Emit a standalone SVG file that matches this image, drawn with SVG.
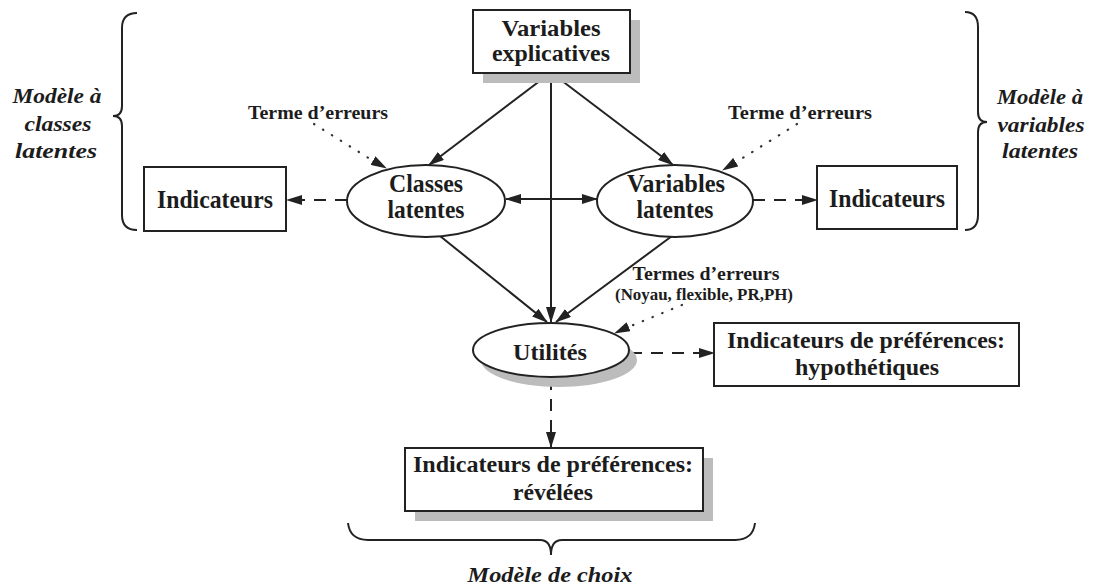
<svg xmlns="http://www.w3.org/2000/svg" width="1103" height="587" viewBox="0 0 1103 587">
<defs>
<marker id="ah" viewBox="0 0 16 10" refX="15" refY="5" markerWidth="16" markerHeight="10" markerUnits="userSpaceOnUse" orient="auto-start-reverse">
<path d="M0,0 L16,5 L0,10 Z" fill="#222"/>
</marker>
<style>
.t{font-family:"Liberation Serif","Times New Roman",serif;font-weight:bold;fill:#1c1c1c;}
.it{font-style:italic;}
.box{fill:#fff;stroke:#222;stroke-width:2;}
.sh{fill:#bcbcbc;}
.ln{stroke:#222;stroke-width:2;fill:none;}
.dash{stroke:#222;stroke-width:2;fill:none;stroke-dasharray:12 9;}
.dot{stroke:#333;stroke-width:2.2;fill:none;stroke-dasharray:0.5 10;stroke-linecap:round;}
.br{stroke:#222;stroke-width:2;fill:none;}
</style>
</defs>
<rect width="1103" height="587" fill="#fff"/>

<g id="braces">
<path class="br" d="M137,13 Q122,13 122,28 L122,106 Q122,116 113,116 Q122,116 122,126 L122,215 Q122,230 137,230"/>
<path class="br" d="M965,12 Q978,12 978,27 L978,112 Q978,122 987,122 Q978,122 978,132 L978,215 Q978,230 965,230"/>
<path class="br" d="M348,523 Q350,540 368,540 L540,540 Q551,540 551,555 Q551,540 562,540 L735,540 Q753,540 755,523"/>
<text class="t it" x="57" y="103" font-size="22" text-anchor="middle" textLength="89" lengthAdjust="spacingAndGlyphs">Modèle à</text>
<text class="t it" x="58" y="131" font-size="22" text-anchor="middle" textLength="67" lengthAdjust="spacingAndGlyphs">classes</text>
<text class="t it" x="56" y="158" font-size="22" text-anchor="middle" textLength="82" lengthAdjust="spacingAndGlyphs">latentes</text>
<text class="t it" x="1040" y="104" font-size="22" text-anchor="middle" textLength="86" lengthAdjust="spacingAndGlyphs">Modèle à</text>
<text class="t it" x="1041" y="132" font-size="22" text-anchor="middle" textLength="87" lengthAdjust="spacingAndGlyphs">variables</text>
<text class="t it" x="1040" y="158" font-size="22" text-anchor="middle" textLength="76" lengthAdjust="spacingAndGlyphs">latentes</text>
<text class="t it" x="550" y="582" font-size="22" text-anchor="middle" textLength="165" lengthAdjust="spacingAndGlyphs">Modèle de choix</text>
</g>

<g id="connectors">
<line class="ln" x1="551" y1="74" x2="551" y2="322" marker-end="url(#ah)"/>
<line class="ln" x1="549" y1="74" x2="429" y2="165" marker-end="url(#ah)"/>
<line class="ln" x1="553" y1="74" x2="673" y2="165" marker-end="url(#ah)"/>
<line class="ln" x1="506" y1="199" x2="597" y2="199" marker-start="url(#ah)" marker-end="url(#ah)"/>
<line class="ln" x1="440" y1="236" x2="547" y2="322" marker-end="url(#ah)"/>
<line class="ln" x1="672" y1="236" x2="556" y2="322" marker-end="url(#ah)"/>
<line class="dash" x1="347" y1="200" x2="287" y2="200" marker-end="url(#ah)"/>
<line class="dash" x1="753" y1="200" x2="817" y2="200" marker-end="url(#ah)"/>
<line class="dash" x1="630" y1="353" x2="714" y2="353" marker-end="url(#ah)"/>
<line class="dash" x1="551" y1="378" x2="551" y2="447" marker-end="url(#ah)"/>
<path class="dot" d="M314,124 L375,162"/>
<line x1="372" y1="160" x2="386" y2="168" stroke="none" marker-end="url(#ah)"/>
<path class="dot" d="M797,124 L733,164"/>
<line x1="736" y1="162" x2="723" y2="170" stroke="none" marker-end="url(#ah)"/>
<path class="dot" d="M682,305 L626,328"/>
<line x1="628" y1="327" x2="615" y2="333" stroke="none" marker-end="url(#ah)"/>
</g>

<g id="n-varexp">
<rect class="sh" x="483" y="20" width="157" height="63"/>
<rect class="box" x="473" y="10" width="157" height="63"/>
<text class="t" x="551" y="36" font-size="23" text-anchor="middle" textLength="99" lengthAdjust="spacingAndGlyphs">Variables</text>
<text class="t" x="551" y="61" font-size="23" text-anchor="middle" textLength="118" lengthAdjust="spacingAndGlyphs">explicatives</text>
</g>

<g id="n-classes">
<ellipse class="box" cx="426" cy="201" rx="79" ry="36"/>
<text class="t" x="426" y="192" font-size="25" text-anchor="middle" textLength="74" lengthAdjust="spacingAndGlyphs">Classes</text>
<text class="t" x="426" y="218" font-size="25" text-anchor="middle" textLength="77" lengthAdjust="spacingAndGlyphs">latentes</text>
</g>

<g id="n-varlat">
<ellipse class="box" cx="675" cy="201" rx="78" ry="36"/>
<text class="t" x="676" y="192" font-size="25" text-anchor="middle" textLength="98" lengthAdjust="spacingAndGlyphs">Variables</text>
<text class="t" x="675" y="218" font-size="25" text-anchor="middle" textLength="77" lengthAdjust="spacingAndGlyphs">latentes</text>
</g>

<g id="n-ind-left">
<rect class="box" x="144" y="167" width="142" height="64"/>
<text class="t" x="215" y="208" font-size="26" text-anchor="middle" textLength="116" lengthAdjust="spacingAndGlyphs">Indicateurs</text>
</g>

<g id="n-ind-right">
<rect class="box" x="817" y="166" width="140" height="63"/>
<text class="t" x="887" y="207" font-size="26" text-anchor="middle" textLength="116" lengthAdjust="spacingAndGlyphs">Indicateurs</text>
</g>

<g id="n-utilites">
<ellipse class="sh" cx="559" cy="360" rx="78" ry="27"/>
<ellipse class="box" cx="551" cy="350" rx="78" ry="27"/>
<text class="t" x="550" y="360" font-size="23" text-anchor="middle" textLength="74" lengthAdjust="spacingAndGlyphs">Utilités</text>
</g>

<g id="n-hypo">
<rect class="box" x="714" y="323" width="305" height="63"/>
<text class="t" x="866" y="348" font-size="23" text-anchor="middle" textLength="278" lengthAdjust="spacingAndGlyphs">Indicateurs de préférences:</text>
<text class="t" x="867" y="375" font-size="23" text-anchor="middle" textLength="144" lengthAdjust="spacingAndGlyphs">hypothétiques</text>
</g>

<g id="n-revel">
<rect class="sh" x="415" y="458" width="298" height="63"/>
<rect class="box" x="405" y="448" width="298" height="63"/>
<text class="t" x="553" y="472" font-size="24" text-anchor="middle" textLength="280" lengthAdjust="spacingAndGlyphs">Indicateurs de préférences:</text>
<text class="t" x="553" y="500" font-size="24" text-anchor="middle" textLength="80" lengthAdjust="spacingAndGlyphs">révélées</text>
</g>

<g id="labels">
<text class="t" x="318" y="119" font-size="18" text-anchor="middle" textLength="140" lengthAdjust="spacingAndGlyphs">Terme d’erreurs</text>
<text class="t" x="800" y="119" font-size="18" text-anchor="middle" textLength="144" lengthAdjust="spacingAndGlyphs">Terme d’erreurs</text>
<text class="t" x="706" y="280" font-size="18" text-anchor="middle" textLength="147" lengthAdjust="spacingAndGlyphs">Termes d’erreurs</text>
<text class="t" x="704" y="300" font-size="17" text-anchor="middle" textLength="178" lengthAdjust="spacingAndGlyphs">(Noyau, flexible, PR,PH)</text>
</g>
</svg>
